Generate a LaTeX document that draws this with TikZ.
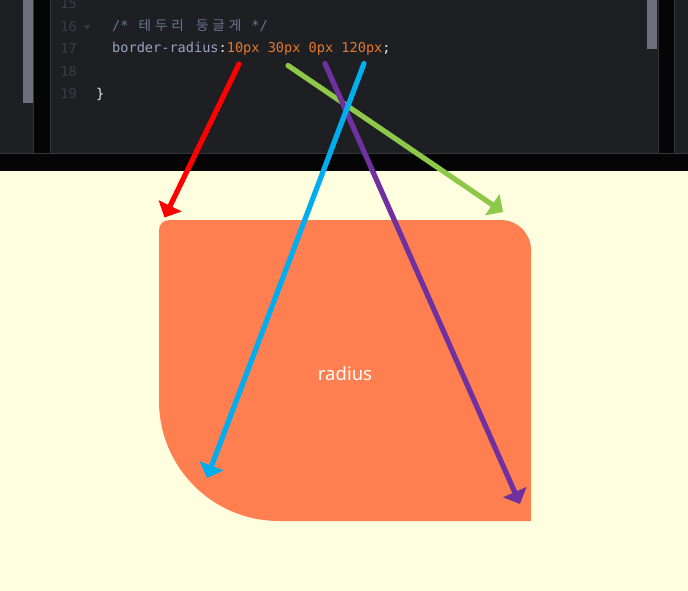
\documentclass[tikz,border=0pt]{standalone}
\usepackage{fontspec}
\usetikzlibrary{arrows.meta}
\newfontfamily\codefont{DejaVu Sans Mono}
\newfontfamily\krfont{Noto Sans CJK KR}
\newfontfamily\uifont{Noto Sans}
\definecolor{editorbg}{HTML}{1E1F23}
\definecolor{stripblack}{HTML}{050505}
\definecolor{stripline}{HTML}{34363A}
\definecolor{scrollgray}{HTML}{6B707C}
\definecolor{lineno}{HTML}{3A3D44}
\definecolor{cmtcol}{HTML}{6A7391}
\definecolor{propcol}{HTML}{9EA1C2}
\definecolor{numcol}{HTML}{E4792B}
\definecolor{punctcol}{HTML}{E6E6E6}
\definecolor{pagebg}{HTML}{FFFFE0}
\definecolor{boxcol}{HTML}{FF7F50}
\definecolor{arrred}{HTML}{FF0000}
\definecolor{arrgreen}{HTML}{8DC849}
\definecolor{arrblue}{HTML}{00AEEF}
\definecolor{arrpurple}{HTML}{7030A0}
\newcommand\kchar[1]{\makebox[16.38pt][c]{\krfont #1}}
\tikzset{
  codetext/.style={anchor=base west, inner sep=0pt, font=\codefont\fontsize{13.6}{16}\selectfont},
  linenum/.style={anchor=base east, inner sep=0pt, text=lineno, font=\codefont\fontsize{13.6}{16}\selectfont},
  pointer/.style={line width=5.2pt, line cap=round, -{Triangle[length=13pt,width=25pt]}},
}
\begin{document}
\begin{tikzpicture}[x=1pt,y=-1pt]
\useasboundingbox (0,0) rectangle (688,591);
% backgrounds
\fill[pagebg] (0,0) rectangle (688,591);
\fill[editorbg] (0,0) rectangle (688,154);
\fill[scrollgray] (23,0) rectangle (33,103);
\fill[stripblack] (33,0) rectangle (50,154);
\draw[stripline, line width=1pt] (33.5,0) -- (33.5,153);
\draw[stripline, line width=1pt] (50.5,0) -- (50.5,153);
\fill[scrollgray] (647,0) rectangle (657,49);
\fill[stripblack] (658,0) rectangle (674,154);
\draw[stripline, line width=1pt] (658.5,0) -- (658.5,153);
\draw[stripline, line width=1pt] (674.5,0) -- (674.5,153);
\fill[stripblack] (0,153) rectangle (688,170.5);
\draw[stripline, line width=1pt] (0,153.5) -- (688,153.5);
% line numbers
\node[linenum] (n15) at (77,9) {15};
\node[linenum] (n16) at (77,31.5) {16};
\node[linenum] (n17) at (77,54) {17};
\node[linenum] (n18) at (77,76.5) {18};
\node[linenum] (n19) at (77,99) {19};
\fill[lineno] (84.5,25.5) -- (90,25.5) -- (87.25,29.5) -- cycle;
% code
\node[codetext, text=cmtcol] (cmt) at (112,31) {/*\ \kchar{테}\kchar{두}\kchar{리}\ \kchar{둥}\kchar{글}\kchar{게}\ */};
\node[codetext] (code) at (112,53) {\textcolor{propcol}{border-radius}\textcolor{punctcol}{:}\textcolor{numcol}{10px 30px 0px 120px}\textcolor{punctcol}{;}};
\node[codetext, text=punctcol] (brace) at (96,99) {\}};
% box
\fill[boxcol] (159,230) -- (159,401) arc[start angle=180, end angle=90, radius=120] -- (531,521) -- (531,250) arc[start angle=0, end angle=-90, radius=30] -- (169,220) arc[start angle=-90, end angle=-180, radius=10] -- cycle;
\node[inner sep=0pt, anchor=base, text=white, font=\uifont\fontsize{18.5}{20}\selectfont] (lbl) at (345,380) {radius};
% arrow anchors
\coordinate (s10) at (239,64);
\coordinate (s30) at (288,65.5);
\coordinate (s0) at (325,63.5);
\coordinate (s120) at (364,63.5);
\coordinate (tl) at (164.5,217.5);
\coordinate (tr) at (503,212);
\coordinate (bl) at (207,478);
\coordinate (br) at (520,504);
\draw[pointer, arrred] (s10) -- (tl);
\draw[pointer, arrgreen] (s30) -- (tr);
\draw[pointer, arrpurple] (s0) -- (br);
\draw[pointer, arrblue] (s120) -- (bl);
\end{tikzpicture}
\end{document}
